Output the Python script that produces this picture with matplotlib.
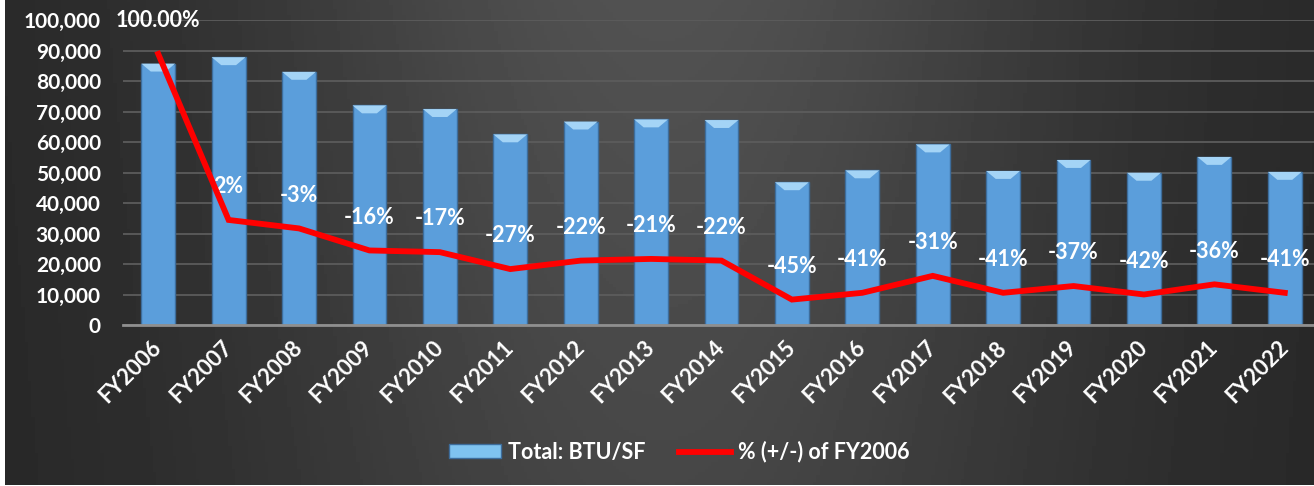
import numpy as np
import matplotlib
matplotlib.use('Agg')
from matplotlib import pyplot as plt
from matplotlib.patches import Polygon, Patch
from matplotlib.lines import Line2D
from matplotlib.ticker import FuncFormatter

plt.rcParams['font.family'] = ['Lato', 'DejaVu Sans']
plt.rcParams['font.weight'] = 'bold'

# data
years = ['FY2006', 'FY2007', 'FY2008', 'FY2009', 'FY2010', 'FY2011', 'FY2012', 'FY2013', 'FY2014',
         'FY2015', 'FY2016', 'FY2017', 'FY2018', 'FY2019', 'FY2020', 'FY2021', 'FY2022']
btu_sf = [85700, 87800, 83000, 72000, 70800, 62500, 66700, 67400, 67200,
          46800, 50700, 59200, 50500, 54100, 49900, 55100, 50200]
pct_change = [1.00, 0.02, -0.03, -0.16, -0.17, -0.27, -0.22, -0.21, -0.22,
              -0.45, -0.41, -0.31, -0.41, -0.37, -0.42, -0.36, -0.41]
pct_labels = ['100.00%', '2%', '-3%', '-16%', '-17%', '-27%', '-22%', '-21%', '-22%',
              '-45%', '-41%', '-31%', '-41%', '-37%', '-42%', '-36%', '-41%']

fig = plt.figure(figsize=(13.14, 4.86), dpi=100)
fig.patch.set_facecolor('white')

# dark gradient background
bg = fig.add_axes([5 / 1314, 1 / 486, 1, 1], zorder=-10)
gx, gy = np.meshgrid(np.linspace(0, 1, 400), np.linspace(0, 1, 150))
shade = 0.15 + 0.17 * np.exp(-((gx - 0.5) / 0.32) ** 2) * (0.75 + 0.25 * (1 - gy))
bg.imshow(shade, cmap='gray', vmin=0, vmax=1, aspect='auto', extent=(0, 1, 0, 1))
bg.axis('off')

ax = fig.add_axes([123 / 1314, 1 - 325 / 486, 1197 / 1314, 305 / 486])
ax.patch.set_alpha(0)
x = np.arange(len(years))
bars = ax.bar(x, btu_sf, width=0.48, color='#5b9edb', edgecolor='#3d6d9c', linewidth=1.0, zorder=2)

# bevelled top of each bar
bevel = 2600
for b in bars:
    x0, w, h = b.get_x(), b.get_width(), b.get_height()
    ax.add_patch(Polygon([(x0, h), (x0 + w, h), (x0 + 0.72 * w, h - bevel), (x0 + 0.28 * w, h - bevel)],
                         closed=True, facecolor='#a4d4f6', edgecolor='none', zorder=3))

ax.set_xlim(-0.5, len(years) - 0.5)
ax.set_ylim(0, 100000)
ax.set_yticks(np.arange(0, 100001, 10000))
ax.yaxis.set_major_formatter(FuncFormatter(lambda v, p: f'{int(v):,}'))
ax.grid(axis='y', color='#5c5c5c', linewidth=1.3, zorder=0)
ax.set_axisbelow(True)
for s in ['top', 'right', 'left']:
    ax.spines[s].set_visible(False)
ax.spines['bottom'].set_color('#8f8f8f')
ax.spines['bottom'].set_linewidth(2)
ax.tick_params(axis='y', length=0, pad=16, labelsize=15, labelcolor='white')
ax.tick_params(axis='x', length=0, pad=14, labelsize=16, labelcolor='white')
ax.set_xticks(x)
ax.set_xticklabels(years, rotation=45, ha='right', va='center', rotation_mode='anchor')
for t in ax.get_xticklabels():
    t.set_fontweight('bold')
for t in ax.get_yticklabels():
    t.set_fontweight('bold')

# percent line on hidden secondary axis
ax2 = ax.twinx()
ax2.set_ylim(-0.6, 1.2)
ax2.plot(x, pct_change, color='#ff0000', linewidth=4.2, solid_joinstyle='miter', zorder=4)
ax2.axis('off')
for xi, p, lab in zip(x, pct_change, pct_labels):
    ax2.annotate(lab, (xi, p), xytext=(0, 24), textcoords='offset points', ha='center', va='center',
                 color='white', fontsize=15.5, fontweight='bold')

handles = [Patch(facecolor='#7fc3f0', edgecolor='#3d6d9c'),
           Line2D([0], [0], color='#ff0000', linewidth=4.2)]
fig.legend(handles, ['Total: BTU/SF', '% (+/-) of FY2006'], loc='center', bbox_to_anchor=(0.517, 0.07),
           ncol=2, frameon=False, labelcolor='white', prop={'size': 15.5, 'weight': 'bold'},
           handlelength=2.4, handleheight=0.6, columnspacing=1.6, handletextpad=0.3)

plt.savefig('out.png', dpi=100)
